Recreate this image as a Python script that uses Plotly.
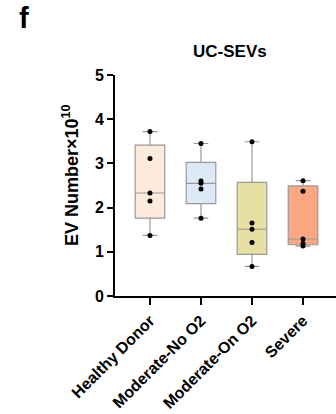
import plotly.graph_objects as go

categories = ["Healthy Donor", "Moderate-No O2", "Moderate-On O2", "Severe"]
healthy = [3.72, 3.11, 2.33, 2.15, 1.37]
mod_no = [3.45, 2.60, 2.55, 2.42, 1.76]
mod_on = [3.49, 1.65, 1.51, 1.21, 0.67]
severe = [2.61, 2.37, 1.29, 1.19, 1.13]
series = [healthy, mod_no, mod_on, severe]
fill_colors = ["#FDEBDC", "#DDE9F6", "#E8DFA3", "#FBA882"]
y_ticks = [0, 1, 2, 3, 4, 5]

FONT = "Arial, Liberation Sans, sans-serif"
W, H = 336, 414
L, R, T, B = 115, 0, 75, 118
pw, ph = W - L - R, H - T - B


def px_x(x):
    return (x - L) / pw


def px_y(y):
    return 1 - (y - T) / ph


fig = go.Figure()
for cat, vals, col in zip(categories, series, fill_colors):
    fig.add_trace(go.Box(
        x=[cat] * len(vals), y=vals, name=cat,
        boxpoints=False, quartilemethod="exclusive",
        fillcolor=col, line=dict(color="#999999", width=1.2),
        width=0.58, whiskerwidth=0.5, showlegend=False,
    ))
    fig.add_trace(go.Scatter(
        x=[cat] * len(vals), y=vals, mode="markers",
        marker=dict(color="black", size=5), showlegend=False,
    ))

fig.update_layout(
    width=W, height=H,
    margin=dict(l=L, r=R, t=T, b=B, autoexpand=False),
    plot_bgcolor="white", paper_bgcolor="white",
    font=dict(family=FONT, color="black"),
    annotations=[
        dict(text="<b>f</b>", x=px_x(24), y=px_y(18), xref="paper", yref="paper",
             xanchor="center", yanchor="middle",
             showarrow=False, font=dict(size=29, family=FONT)),
        dict(text="<b>UC-SEVs</b>", x=px_x(230), y=px_y(52), xref="paper", yref="paper",
             xanchor="center", yanchor="middle",
             showarrow=False, font=dict(size=17, family=FONT)),
        dict(text="<b>EV Number×10<sup>10</sup></b>", x=px_x(70), y=px_y(175),
             xref="paper", yref="paper", xanchor="center", yanchor="middle",
             textangle=-90, showarrow=False, font=dict(size=18, family=FONT)),
    ],
)

fig.update_xaxes(
    type="category", categoryorder="array", categoryarray=categories,
    range=[-0.686, 3.647], automargin=False,
    showline=True, linecolor="black", linewidth=2,
    ticks="outside", ticklen=7, tickwidth=2, tickcolor="black",
    tickangle=-45, tickfont=dict(size=16, family=FONT, weight="bold"),
    ticklabelstandoff=0,
    showgrid=False, zeroline=False,
)
fig.update_yaxes(
    range=[0, 5], tickvals=y_ticks, automargin=False,
    showline=True, linecolor="black", linewidth=2,
    ticks="outside", ticklen=6, tickwidth=2, tickcolor="black",
    tickfont=dict(size=16, family=FONT, weight="bold"),
    showgrid=False, zeroline=False,
)

fig.write_html("out.html")
